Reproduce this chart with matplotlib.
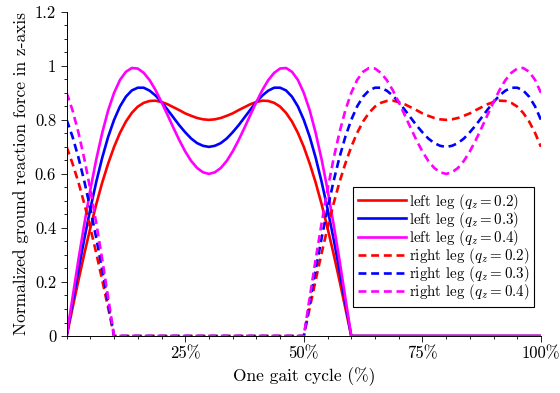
import numpy as np
import matplotlib
matplotlib.use('Agg')
import matplotlib.pyplot as plt
from matplotlib.ticker import MultipleLocator, FixedLocator, FixedFormatter

plt.rcParams['font.family'] = 'serif'
plt.rcParams['font.serif'] = ['cmr10', 'DejaVu Serif']
plt.rcParams['mathtext.fontset'] = 'cm'
plt.rcParams['axes.formatter.use_mathtext'] = True
plt.rcParams['axes.unicode_minus'] = False

# stance phase, read every 1.25 % of the gait cycle (stance lasts 60 %)
stance_pct = [i * 1.25 for i in range(49)]
grf_q02 = [0, 0.104, 0.207, 0.306, 0.400, 0.488, 0.568, 0.638, 0.700, 0.752, 0.794, 0.826,
           0.849, 0.863, 0.870, 0.871, 0.866, 0.858, 0.847, 0.836, 0.824, 0.815, 0.807, 0.802,
           0.800,
           0.802, 0.807, 0.815, 0.824, 0.836, 0.847, 0.858, 0.866, 0.871, 0.870, 0.863, 0.849,
           0.826, 0.794, 0.752, 0.700, 0.638, 0.568, 0.488, 0.400, 0.306, 0.207, 0.104, 0]
grf_q03 = [0, 0.124, 0.245, 0.362, 0.471, 0.571, 0.660, 0.737, 0.800, 0.850, 0.886, 0.909,
           0.919, 0.919, 0.908, 0.890, 0.866, 0.838, 0.809, 0.780, 0.754, 0.731, 0.714, 0.704,
           0.700,
           0.704, 0.714, 0.731, 0.754, 0.780, 0.809, 0.838, 0.866, 0.890, 0.908, 0.919, 0.919,
           0.909, 0.886, 0.850, 0.800, 0.737, 0.660, 0.571, 0.471, 0.362, 0.245, 0.124, 0]
grf_q04 = [0, 0.143, 0.284, 0.417, 0.542, 0.654, 0.752, 0.835, 0.900, 0.948, 0.978, 0.992,
           0.990, 0.974, 0.947, 0.910, 0.866, 0.819, 0.771, 0.725, 0.683, 0.648, 0.622, 0.606,
           0.600,
           0.606, 0.622, 0.648, 0.683, 0.725, 0.771, 0.819, 0.866, 0.910, 0.947, 0.974, 0.990,
           0.992, 0.978, 0.948, 0.900, 0.835, 0.752, 0.654, 0.542, 0.417, 0.284, 0.143, 0]
q_values = ['0.2', '0.3', '0.4']
profiles = [grf_q02, grf_q03, grf_q04]
colors = ['#ff0000', '#0000ff', '#ff00ff']
right_offset = 50  # right leg touches down at 50 %

fig = plt.figure(figsize=(5.6, 3.93), dpi=100)
ax = fig.add_axes([0.119, 0.145, 0.847, 0.825])

handles = []
for prof, c, q in zip(profiles, colors, q_values):
    # left leg: stance then flat zero to end of cycle
    xl = list(stance_pct) + [100]
    yl = list(prof) + [0]
    h, = ax.plot(xl, yl, color=c, lw=1.9, label='left leg ($q_z = %s$)' % q)
    handles.append(h)

for prof, c, q in zip(profiles, colors, q_values):
    xs = np.array(stance_pct) + right_offset
    ys = np.array(prof)
    wrap = xs > 100
    xr = list(xs[wrap] - 100) + list(xs[~wrap])
    yr = list(ys[wrap]) + list(ys[~wrap])
    # value at 100 % repeats at 0 %
    xr = [0] + xr
    yr = [ys[xs == 100][0]] + yr
    h, = ax.plot(xr, yr, color=c, lw=1.9, ls=(0, (3, 1.8)), label='right leg ($q_z = %s$)' % q)
    handles.append(h)

ax.set_xlim(0, 100)
ax.set_ylim(0, 1.2)
ax.spines['top'].set_visible(False)
ax.spines['right'].set_visible(False)
ax.xaxis.set_major_locator(FixedLocator([25, 50, 75, 100]))
ax.xaxis.set_major_formatter(FixedFormatter(['25%', '50%', '75%', '100%']))
ax.xaxis.set_minor_locator(MultipleLocator(5))
ax.yaxis.set_major_locator(FixedLocator([0, 0.2, 0.4, 0.6, 0.8, 1, 1.2]))
ax.yaxis.set_major_formatter(FixedFormatter(['0', '0.2', '0.4', '0.6', '0.8', '1', '1.2']))
ax.yaxis.set_minor_locator(MultipleLocator(0.05))
ax.tick_params(which='both', direction='out', labelsize=12, width=0.6)
ax.tick_params(which='major', length=4)
ax.tick_params(which='minor', length=2.5)
for s in ['left', 'bottom']:
    ax.spines[s].set_linewidth(0.7)

ax.set_xlabel('One gait cycle (%)', fontsize=12.5)
ax.set_ylabel('Normalized ground reaction force in z-axis', fontsize=12.5)

leg = ax.legend(handles=handles, loc='upper left', bbox_to_anchor=(353 / 560, 1 - 187 / 393),
                bbox_transform=fig.transFigure, fontsize=10.8, frameon=True, fancybox=False,
                edgecolor='black', framealpha=1, handlelength=3.2, handletextpad=0.25,
                labelspacing=-0.12, borderpad=0.3, borderaxespad=0)
leg.get_frame().set_linewidth(0.8)

fig.savefig('out.png', dpi=100)
